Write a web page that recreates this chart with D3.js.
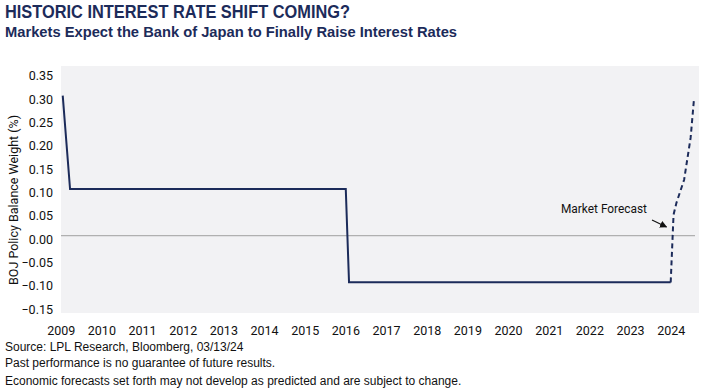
<!DOCTYPE html>
<html><head><meta charset="utf-8">
<script src="https://cdn.jsdelivr.net/npm/d3@7"></script>
<style>body{margin:0;background:#fff}svg{display:block}</style>
</head><body>
<svg id="c" width="706" height="390"></svg>
<script>
const title = "HISTORIC INTEREST RATE SHIFT COMING?";
const subtitle = "Markets Expect the Bank of Japan to Finally Raise Interest Rates";
const yAxisTitle = "BOJ Policy Balance Weight (%)";
const footnotes = ["Source: LPL Research, Bloomberg, 03/13/24",
  "Past performance is no guarantee of future results.",
  "Economic forecasts set forth may not develop as predicted and are subject to change."];
const xTickYears = [2009,2010,2011,2012,2013,2014,2015,2016,2017,2018,2019,2020,2021,2022,2023,2024];
const yTickValues = [0.35,0.30,0.25,0.20,0.15,0.10,0.05,0.00,-0.05,-0.10,-0.15];
const actualDates = [2009.05, 2009.23, 2016.01, 2016.09, 2024.0];
const actualValues = [0.30, 0.10, 0.10, -0.10, -0.10];
const forecastDates = [2024.0, 2024.07, 2024.14, 2024.33, 2024.49, 2024.57];
const forecastValues = [-0.10, 0.045, 0.07, 0.12, 0.21, 0.29];
const annotationText = "Market Forecast";

const svg = d3.select("#c");
const navy = "#1c2b5a";
const plot = {left:61, right:699, top:66, bottom:313};
const x = d3.scaleLinear().domain([2009, 2024]).range([60.7, 670.7]);
const y = d3.scaleLinear().domain([0, 0.30]).range([235.7, 95.7]);

svg.append("text").attr("x",5).attr("y",18).attr("font-family","Liberation Sans, Arial, sans-serif")
  .attr("font-weight","bold").attr("font-size",18).attr("fill",navy)
  .attr("textLength",345).attr("lengthAdjust","spacingAndGlyphs").text(title);
svg.append("text").attr("x",5).attr("y",37).attr("font-family","Liberation Sans, Arial, sans-serif")
  .attr("font-weight","bold").attr("font-size",15).attr("fill",navy)
  .attr("textLength",452).attr("lengthAdjust","spacingAndGlyphs").text(subtitle);

svg.append("rect").attr("x",plot.left).attr("y",plot.top).attr("width",plot.right-plot.left)
  .attr("height",plot.bottom-plot.top).attr("fill","#f2f2f4");

// zero line
svg.append("line").attr("x1",plot.left).attr("x2",695).attr("y1",y(0)).attr("y2",y(0))
  .attr("stroke","#b0b0b0").attr("stroke-width",1.2);

// y axis
const yAxis = d3.axisLeft(y).tickValues(yTickValues).tickFormat(d3.format(".2f")).tickSize(0).tickPadding(0);
const gy = svg.append("g").attr("transform","translate(53,0)").call(yAxis);
gy.select(".domain").remove();
gy.selectAll("text").attr("font-family","Roboto, sans-serif").attr("font-size",12.5).attr("fill","#111")
  .attr("dy","0.6em");

// x axis
const xAxis = d3.axisBottom(x).tickValues(xTickYears).tickFormat(d3.format("d")).tickSize(0).tickPadding(0);
const gx = svg.append("g").attr("transform","translate(0,326)").call(xAxis);
gx.select(".domain").remove();
gx.selectAll("text").attr("font-family","Roboto, sans-serif").attr("font-size",12.5).attr("fill","#111")
  .attr("dy","0.75em");

// y title
svg.append("text").attr("transform","translate(18,200) rotate(-90)").attr("text-anchor","middle")
  .attr("font-family","Roboto, sans-serif").attr("font-size",12.5).attr("fill","#111").text(yAxisTitle);

const line = d3.line().x(d=>x(d[0])).y(d=>y(d[1]));
svg.append("path").datum(actualDates.map((d,i)=>[d,actualValues[i]])).attr("d",line)
  .attr("fill","none").attr("stroke",navy).attr("stroke-width",2).attr("stroke-linejoin","miter");
svg.append("path").datum(forecastDates.map((d,i)=>[d,forecastValues[i]])).attr("d",line)
  .attr("fill","none").attr("stroke",navy).attr("stroke-width",2).attr("stroke-dasharray","5,3.5");

// annotation
svg.append("defs").append("marker").attr("id","arr").attr("viewBox","0 0 10 10").attr("refX",9).attr("refY",5)
  .attr("markerWidth",6).attr("markerHeight",6).attr("orient","auto")
  .append("path").attr("d","M0,0L10,5L0,10z").attr("fill","#111");
svg.append("text").attr("x",604).attr("y",213).attr("text-anchor","middle")
  .attr("font-family","Roboto, sans-serif").attr("font-size",12.5).attr("fill","#111")
  .attr("textLength",86).attr("lengthAdjust","spacingAndGlyphs").text(annotationText);
svg.append("line").attr("x1",652).attr("y1",220).attr("x2",666.5).attr("y2",227)
  .attr("stroke","#111").attr("stroke-width",1.2).attr("marker-end","url(#arr)");

// footnotes
svg.selectAll("text.fn").data(footnotes).enter().append("text").attr("class","fn")
  .attr("x",5).attr("y",(d,i)=>[351,367,385][i]).attr("font-family","Liberation Sans, Arial, sans-serif")
  .attr("font-size",12).attr("fill","#111").text(d=>d);
</script>
</body></html>
